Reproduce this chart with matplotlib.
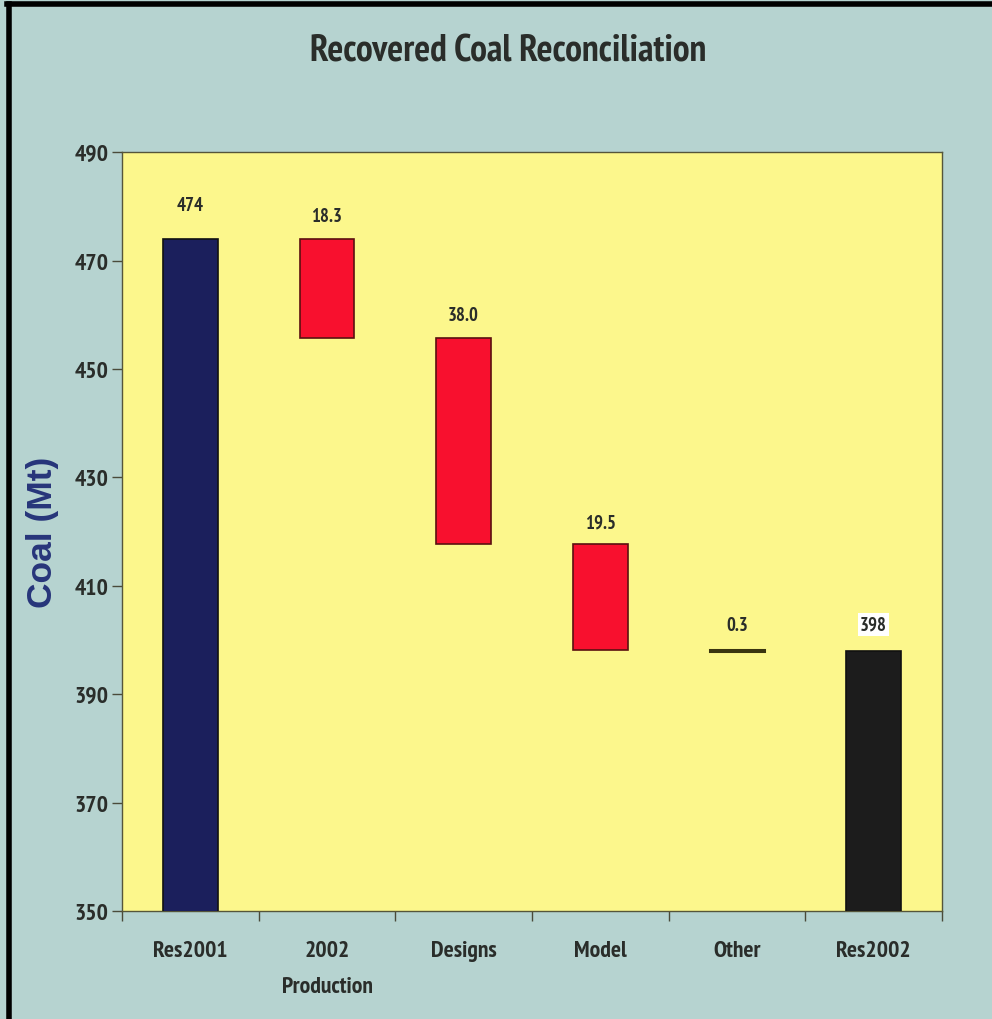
import matplotlib
matplotlib.use("Agg")
import matplotlib.pyplot as plt
from matplotlib.lines import Line2D
from matplotlib import font_manager as fm

# ---- data ----
categories = ["Res2001", "2002\nProduction", "Designs", "Model", "Other", "Res2002"]
start_total = 474.0
changes = [18.3, 38.0, 19.5, 0.3]
end_total = 398.0
value_labels = ["474", "18.3", "38.0", "19.5", "0.3", "398"]
yticks = [350, 370, 390, 410, 430, 450, 470, 490]

# ---- font choice ----
bold_names = {}
for f in fm.fontManager.ttflist:
    w = f.weight if isinstance(f.weight, int) else 400
    bold_names.setdefault(f.name, set()).add(w)
pref = ["Liberation Sans Narrow", "Arial Narrow", "Archivo Narrow", "PT Sans Narrow",
        "Roboto Condensed", "Pragati Narrow", "Encode Sans Condensed",
        "IBM Plex Sans Condensed", "Fira Sans Condensed", "Sofia Sans Condensed",
        "Barlow Semi Condensed", "Asap Condensed", "Open Sans Condensed"]
narrow = "DejaVu Sans"
for p in pref:
    if p in bold_names and any(w >= 600 for w in bold_names[p]):
        narrow = p
        break

bg = "#b6d3d0"
yellow = "#fcf78c"
red = "#f8102e"
navy = "#1b1f5c"
black = "#1c1c1c"
txtc = "#2a2d2a"

fig = plt.figure(figsize=(9.92, 10.2), dpi=100, facecolor=bg)
ax = fig.add_axes([0.123, 0.1059, 0.8266, 0.744])
ax.set_facecolor(yellow)

# waterfall
heights = [start_total]
bottoms = [0]
level = start_total
for c in changes:
    level -= c
    heights.append(c)
    bottoms.append(level)
heights.append(end_total)
bottoms.append(0)
colors = [navy] + [red] * len(changes) + [black]
edge = ["#111111", "#5a1010", "#5a1010", "#5a1010", "#3a3a10", "#111111"]

x = list(range(len(categories)))
tops = [b + h for b, h in zip(bottoms, heights)]
ax.bar(x, heights, bottom=bottoms, width=0.4, color=colors,
       edgecolor=edge, linewidth=1.2, zorder=3)
# "Other" is very thin: draw it as a heavy line-like bar
ax.bar([4], [changes[3]], bottom=[bottoms[4]], width=0.4, color="#3a3510",
       edgecolor="#3a3510", linewidth=2.2, zorder=4)

gaps = [5.3, 3.2, 3.3, 3.1, 3.6, 3.9]
for i, (t, lab) in enumerate(zip(tops, value_labels)):
    kw = {}
    if i == len(categories) - 1:
        kw["bbox"] = dict(boxstyle="square,pad=0.12", fc="white", ec="none")
    ax.text(x[i], t + gaps[i], lab, ha="center", va="baseline",
            fontsize=13.5, fontweight="bold", family=narrow, color=txtc, **kw)

ax.set_ylim(350, 490)
ax.set_xlim(-0.5, len(categories) - 0.5)
ax.set_yticks(yticks)
ax.set_yticklabels([str(v) for v in yticks], fontsize=17, fontweight="bold",
                   family=narrow, color=txtc)
ax.set_xticks(x)
ax.set_xticklabels(categories, fontsize=17, fontweight="bold", family=narrow,
                   color=txtc, linespacing=1.95)
ax.tick_params(axis="x", length=0, pad=21)
ax.set_xticks([i - 0.5 for i in range(len(categories) + 1)], minor=True)
ax.tick_params(axis="x", which="minor", length=7, width=1, color="#4a4a3a")
ax.tick_params(axis="y", length=7, width=1, color="#4a4a3a", pad=3)
for s in ax.spines.values():
    s.set_color("#55553a")
    s.set_linewidth(1.0)

ax.set_ylabel("Coal (Mt)", fontsize=25.5, fontweight="bold", color="#27357a",
              family="Liberation Sans")
ax.yaxis.set_label_coords(-0.077, 0.5)

fig.text(0.512, 0.949, "Recovered Coal Reconciliation", ha="center", va="center",
         fontsize=27, fontweight="bold", family=narrow, color=txtc)

# border lines (top, left)
fig.add_artist(Line2D([0.007, 1.0], [0.9955, 0.9955], color="black", lw=4,
                      transform=fig.transFigure))
fig.add_artist(Line2D([0.009, 0.009], [0.0, 0.9955], color="black", lw=4,
                      transform=fig.transFigure))

fig.savefig("out.png", dpi=100, facecolor=bg)
